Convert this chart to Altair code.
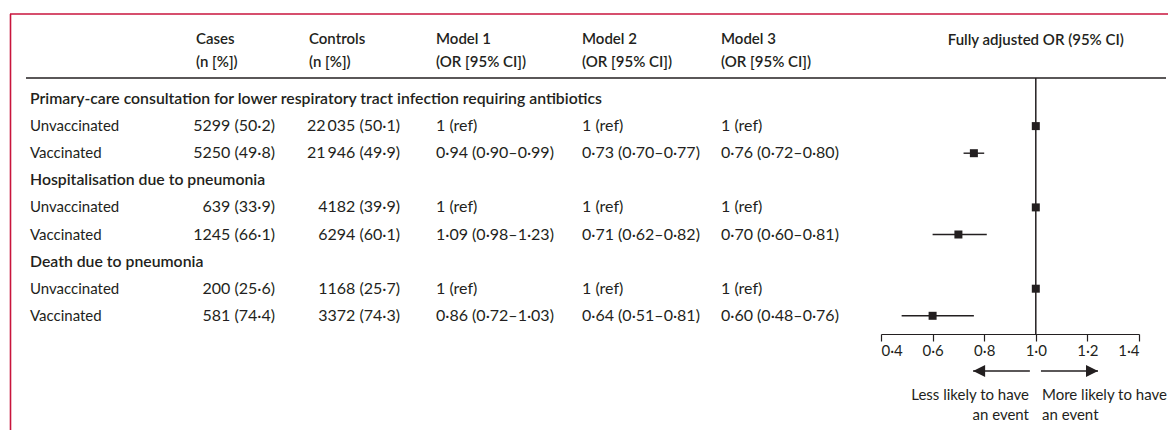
import altair as alt
import pandas as pd

# ---- data -----------------------------------------------------------------
outcomes = [
    "Primary-care consultation for lower respiratory tract infection requiring antibiotics",
    "Hospitalisation due to pneumonia",
    "Death due to pneumonia",
]
groups = ["Unvaccinated", "Vaccinated"]

cases_n = [5299, 5250, 639, 1245, 200, 581]
cases_pct = [50.2, 49.8, 33.9, 66.1, 25.6, 74.4]
controls_n = [22035, 21946, 4182, 6294, 1168, 3372]
controls_pct = [50.1, 49.9, 39.9, 60.1, 25.7, 74.3]

# vaccinated vs unvaccinated odds ratios, one entry per outcome
model1_or = [0.94, 1.09, 0.86]
model1_lo = [0.90, 0.98, 0.72]
model1_hi = [0.99, 1.23, 1.03]
model2_or = [0.73, 0.71, 0.64]
model2_lo = [0.70, 0.62, 0.51]
model2_hi = [0.77, 0.82, 0.81]
model3_or = [0.76, 0.70, 0.60]
model3_lo = [0.72, 0.60, 0.48]
model3_hi = [0.80, 0.81, 0.76]

axis_ticks = [0.4, 0.6, 0.8, 1.0, 1.2, 1.4]

# ---- styling --------------------------------------------------------------
FONT = "Lato"
FS = 15          # labels
FS_NUM = 16      # numeric cells
FS_SEC = 15.8    # outcome headings
BOLD = 600
INK = "#231f20"
RED = "#c8143c"

ROW0, ROW_H = 99, 27.1          # first table row and row pitch (px)
AXIS_Y = 334                    # forest-plot axis line (px)
H, W = 430, 1168

def dot(v, nd):
    return f"{v:.{nd}f}".replace(".", "·")

def count(n):
    s = str(n)
    return s[:-3] + "\u2009" + s[-3:] if n >= 10000 else s

def ci(o, lo, hi):
    return f"{dot(o, 2)} ({dot(lo, 2)}–{dot(hi, 2)})"

# ---- table rows -----------------------------------------------------------
sections, rows, forest = [], [], []
for k, name in enumerate(outcomes):
    sections.append({"y": ROW0 + ROW_H * 3 * k, "label": name})
    for g, grp in enumerate(groups):
        i = 2 * k + g
        y = ROW0 + ROW_H * (3 * k + 1 + g)
        if g == 0:
            m1 = m2 = m3 = "1 (ref)"
            o, lo, hi = 1.0, 1.0, 1.0
        else:
            m1 = ci(model1_or[k], model1_lo[k], model1_hi[k])
            m2 = ci(model2_or[k], model2_lo[k], model2_hi[k])
            m3 = ci(model3_or[k], model3_lo[k], model3_hi[k])
            o, lo, hi = model3_or[k], model3_lo[k], model3_hi[k]
        rows.append({
            "y": y, "label": grp,
            "cases": f"{count(cases_n[i])} ({dot(cases_pct[i], 1)})",
            "controls": f"{count(controls_n[i])} ({dot(controls_pct[i], 1)})",
            "m1": m1, "m2": m2, "m3": m3,
        })
        forest.append({"y": y, "or": o, "lo": lo, "hi": hi})

sec_df = pd.DataFrame(sections)
row_df = pd.DataFrame(rows)
forest_df = pd.DataFrame(forest)
one_df = pd.DataFrame({"k": [0]})   # single datum for fixed decorations

Y_SCALE = alt.Scale(domain=[0, H], range=[0, H], nice=False, zero=False)
X_SCALE = alt.Scale(domain=[0.4, 1.4], range=[881, 1139], nice=False, zero=False)
X_AXIS = alt.Axis(
    values=axis_ticks, orient="bottom", offset=AXIS_Y - H, grid=False,
    tickSize=7, tickColor=INK, tickWidth=1.2, domainColor=INK, domainWidth=1.2,
    labelFont=FONT, labelFontSize=FS, labelColor=INK, labelPadding=2,
    labelExpr="replace(format(datum.value, '.1f'), '.', '·')",
)

def yq():
    return alt.Y("y:Q", scale=Y_SCALE, axis=None)

def xd(v):
    return alt.X(datum=v, scale=X_SCALE, axis=X_AXIS, title=None)

def txt(size=FS, **kw):
    base = dict(font=FONT, fontSize=size, color=INK, baseline="middle")
    base.update(kw)
    return alt.Chart(row_df).mark_text(**base)

def label(text, x, y, align="left", weight="normal", size=FS):
    return alt.Chart(one_df).mark_text(
        font=FONT, fontSize=size, fontWeight=weight, color=INK,
        align=align, baseline="middle", text=text,
    ).encode(x=x, y=alt.value(y))

layers = []

# frame
layers.append(alt.Chart(one_df).mark_rule(color=RED, strokeWidth=1.6).encode(
    x=alt.value(10), x2=alt.value(W), y=alt.value(14)))
layers.append(alt.Chart(one_df).mark_rule(color=RED, strokeWidth=1.6).encode(
    x=alt.value(10.5), y=alt.value(14), y2=alt.value(H)))
# header rule
layers.append(alt.Chart(one_df).mark_rule(color=INK, strokeWidth=1.3).encode(
    x=alt.value(26), x2=alt.value(1166), y=alt.value(78)))

# column headers
headers = [
    (196, ["Cases", "(n [%])"]),
    (309, ["Controls", "(n [%])"]),
    (436, ["Model 1", "(OR [95% CI])"]),
    (582, ["Model 2", "(OR [95% CI])"]),
    (721, ["Model 3", "(OR [95% CI])"]),
]
for hx, lines in headers:
    for line, hy in zip(lines, [39, 62]):
        layers.append(label(line, alt.value(hx), hy, weight=BOLD))
layers.append(label("Fully adjusted OR (95% CI)", xd(1.0), 40, align="center", weight=BOLD))

# outcome headings and group labels
layers.append(alt.Chart(sec_df).mark_text(
    font=FONT, fontSize=FS_SEC, fontWeight=BOLD, color=INK, align="left", baseline="middle",
).encode(x=alt.value(30), y=yq(), text="label:N"))
layers.append(txt(align="left").encode(x=alt.value(30), y=yq(), text="label:N"))

# numeric columns
layers.append(txt(FS_NUM, align="right").encode(x=alt.value(275), y=yq(), text="cases:N"))
layers.append(txt(FS_NUM, align="right").encode(x=alt.value(400), y=yq(), text="controls:N"))
layers.append(txt(FS_NUM, align="left").encode(x=alt.value(436), y=yq(), text="m1:N"))
layers.append(txt(FS_NUM, align="left").encode(x=alt.value(582), y=yq(), text="m2:N"))
layers.append(txt(FS_NUM, align="left").encode(x=alt.value(721), y=yq(), text="m3:N"))

# forest plot: line of no effect, CIs and point estimates
layers.append(alt.Chart(one_df).mark_rule(color=INK, strokeWidth=1.5).encode(
    x=xd(1.0), y=alt.value(78), y2=alt.value(AXIS_Y)))
layers.append(alt.Chart(forest_df).mark_rule(color=INK, strokeWidth=1.4).encode(
    x=alt.X("lo:Q", scale=X_SCALE, axis=X_AXIS, title=None),
    x2="hi:Q", y=yq()))
layers.append(alt.Chart(forest_df).mark_square(
    size=64, color=INK, opacity=1, filled=True
).encode(x=alt.X("or:Q", scale=X_SCALE, axis=X_AXIS, title=None), y=yq()))

# direction arrows
ARROW_Y = 371
for tail, tip, shape, off in [(0.977, 0.757, "M-1,0L1,-1L1,1Z", 6),
                              (1.020, 1.241, "M1,0L-1,-1L-1,1Z", -6)]:
    layers.append(alt.Chart(one_df).mark_rule(color=INK, strokeWidth=1.6).encode(
        x=xd(tail), x2=alt.X2(datum=tip), y=alt.value(ARROW_Y)))
    layers.append(alt.Chart(one_df).mark_point(
        shape=shape, size=144, filled=True, opacity=1, color=INK, strokeWidth=0, xOffset=off,
    ).encode(x=xd(tip), y=alt.value(ARROW_Y)))

for tx, align, lines in [(1029, "right", ["Less likely to have", "an event"]),
                         (1042, "left", ["More likely to have", "an event"])]:
    for line, ty in zip(lines, [395, 415]):
        layers.append(label(line, alt.value(tx), ty, align=align))

chart = alt.layer(*layers).properties(
    width=W, height=H, autosize=alt.AutoSizeParams(type="none"), padding=0,
    background="white",
).configure_view(strokeWidth=0)

chart.save("out.html", embed_options={"renderer": "svg", "actions": False})
